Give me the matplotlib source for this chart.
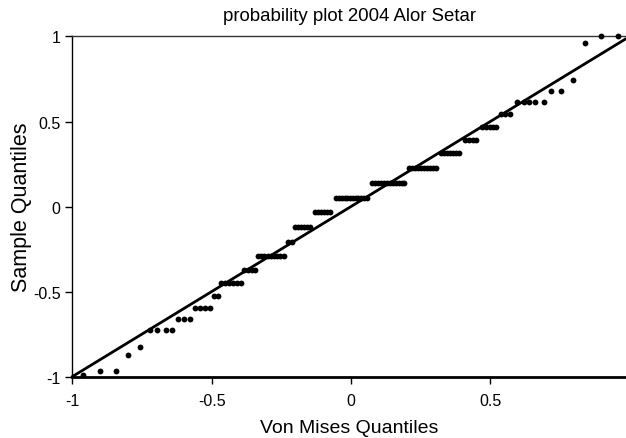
import numpy as np
import matplotlib
matplotlib.use("Agg")
from matplotlib import pyplot as plt

plt.rcParams['font.family'] = ['Liberation Sans', 'DejaVu Sans']

# sample quantile levels (y) and the theoretical quantiles (x) read for each level
levels = [-0.99, -0.966, -0.872, -0.828, -0.726, -0.662, -0.597, -0.526, -0.45,
          -0.374, -0.289, -0.207, -0.12, -0.032, 0.05, 0.138, 0.226, 0.315,
          0.391, 0.47, 0.544, 0.615, 0.679, 0.744, 0.962, 1.0]

theo = [
    [-0.963],
    [-0.900, -0.845],
    [-0.800],
    [-0.759],
    [-0.722, -0.697, -0.664, -0.643],
    [-0.621, -0.599, -0.578],
    [-0.560, -0.542, -0.524, -0.506],
    [-0.492, -0.477],
    [-0.467, -0.452, -0.438, -0.424, -0.409, -0.395],
    [-0.384, -0.370, -0.355, -0.345],
    [-0.334, -0.323, -0.312, -0.298, -0.287, -0.276, -0.266, -0.255, -0.240],
    [-0.226, -0.212],
    [-0.201, -0.190, -0.179, -0.169, -0.158, -0.147],
    [-0.129, -0.118, -0.108, -0.097, -0.086, -0.075],
    [-0.054, -0.043, -0.032, -0.022, -0.014, -0.004, 0.007, 0.018, 0.025, 0.036, 0.047, 0.057],
    [0.075, 0.086, 0.097, 0.108, 0.118, 0.129, 0.140, 0.151, 0.162, 0.172, 0.183, 0.190],
    [0.208, 0.219, 0.230, 0.240, 0.251, 0.262, 0.273, 0.284, 0.294, 0.305],
    [0.323, 0.334, 0.345, 0.355, 0.366, 0.377, 0.388],
    [0.409, 0.424, 0.438, 0.449],
    [0.470, 0.485, 0.499, 0.510, 0.520],
    [0.538, 0.553, 0.571],
    [0.596, 0.621, 0.639, 0.660, 0.693],
    [0.718, 0.754],
    [0.797],
    [0.840],
    [0.897, 0.958],
]

ref_line = [-1, 1]

xs = [x for grp in theo for x in grp]
ys = [lv for lv, grp in zip(levels, theo) for _ in grp]

fig = plt.figure(figsize=(6.26, 4.39), dpi=100)
ax = fig.add_axes([0.1157, 0.140, 0.8843, 0.7746])

ax.plot(ref_line, ref_line, color='black', lw=2, clip_on=False, zorder=2)
ax.plot(xs, ys, 'o', color='black', ms=4.2, mec='none', clip_on=False, zorder=3)

ax.set_xlim(-1, 0.987)
ax.set_ylim(-1, 1)
ax.set_xticks([-1, -0.5, 0, 0.5])
ax.set_xticklabels(['-1', '-0.5', '0', '0.5'])
ax.set_yticks([-1, -0.5, 0, 0.5, 1])
ax.set_yticklabels(['-1', '-0.5', '0', '0.5', '1'])

ax.spines['right'].set_visible(False)
ax.spines['top'].set_linewidth(1.0)
ax.spines['top'].set_color('#333333')
ax.spines['left'].set_linewidth(1.0)
ax.spines['bottom'].set_linewidth(2.0)
ax.tick_params(direction='out', length=5, width=1, labelsize=11.5, colors='black')
ax.tick_params(axis='x', pad=7)

ax.set_xlabel('Von Mises Quantiles', fontsize=14, labelpad=8)
ax.set_ylabel('Sample Quantiles', fontsize=15.5, labelpad=1)
ax.set_title('probability plot 2004 Alor Setar', fontsize=13.4, pad=12)

fig.savefig('out.png', dpi=100)
